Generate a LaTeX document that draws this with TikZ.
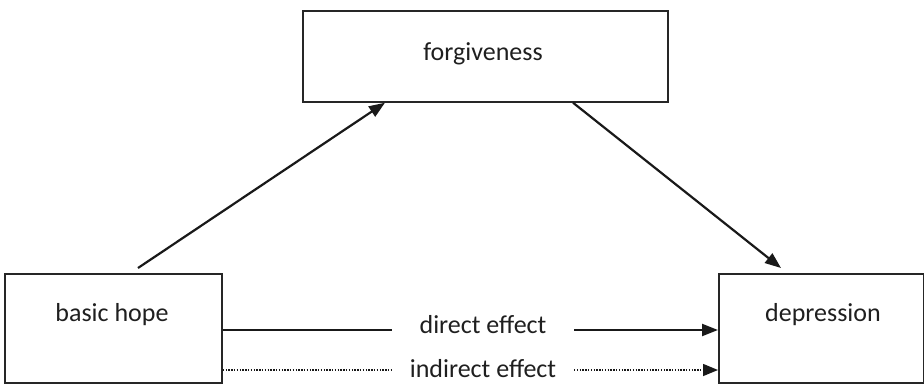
\documentclass[tikz,border=0pt]{standalone}
\usepackage{fontspec}
\setmainfont{Carlito}
\usetikzlibrary{arrows.meta}
\begin{document}
\begin{tikzpicture}[x=1pt,y=-1pt,
  box/.style={draw=black!85, line width=1.7pt, inner sep=0pt, anchor=north west},
  txt/.style={font=\fontsize{26}{30}\selectfont, text=black!88, anchor=base, inner sep=0pt},
  arr/.style={draw=black!90, line width=2.2pt, -{Triangle[length=16pt,width=12pt]}},
  plain/.style={draw=black!90, line width=2.2pt},
  dots/.style={draw=black!90, line width=1.5pt, dash pattern=on 1.4pt off 1.4pt},
  dotarr/.style={dots, -{Triangle[length=15pt,width=12pt]}}
]
\useasboundingbox (0,0) rectangle (924,383);
\node[box, minimum width=365pt, minimum height=91pt] (fg) at (302,10) {};
\node[box, minimum width=217pt, minimum height=109pt] (bh) at (4,273) {};
\node[box, minimum width=205pt, minimum height=109pt] (dep) at (718,273) {};
\node[txt] (fgt) at (483,60) {forgiveness};
\node[txt] (bht) at (112,321) {basic hope};
\node[txt] (dept) at (823,321) {depression};
\node[txt] (de) at (483,333) {direct effect};
\node[txt] (ie) at (483,377) {indirect effect};
\coordinate (dl) at (392,330);
\coordinate (dr) at (574,330);
\coordinate (il) at (392,370);
\coordinate (ir) at (574,370);
\draw[arr] ([xshift=134pt,yshift=5pt]bh.north west) -- ([xshift=83pt]fg.south west);
\draw[arr] ([xshift=271pt]fg.south west) -- ([xshift=63pt,yshift=5pt]dep.north west);
\draw[plain] (bh.east |- dl) -- (dl);
\draw[arr] (dr) -- (dep.west |- dr);
\draw[dots] (bh.east |- il) -- (il);
\draw[dotarr] (ir) -- (dep.west |- ir);
\end{tikzpicture}
\end{document}
